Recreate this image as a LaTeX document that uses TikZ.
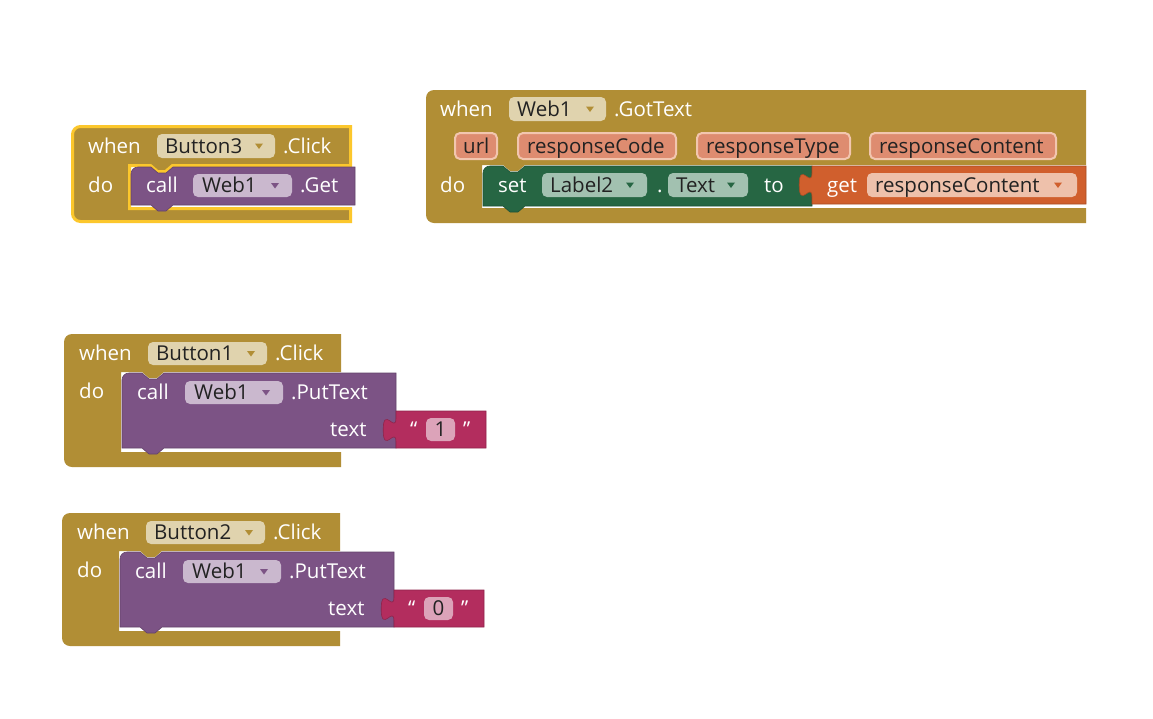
\documentclass[tikz,border=0pt]{standalone}
\usepackage{fontspec}
\setmainfont{Open Sans}

\definecolor{ctrl}{HTML}{B18E35}
\definecolor{ctrlfield}{HTML}{E0D3AE}
\definecolor{selyellow}{HTML}{FCC72C}
\definecolor{method}{HTML}{7C5385}
\definecolor{methodfield}{HTML}{CAB8CE}
\definecolor{setter}{HTML}{266643}
\definecolor{setterfield}{HTML}{A2C1B0}
\definecolor{getter}{HTML}{D05F2D}
\definecolor{getterfield}{HTML}{EEC1AB}
\definecolor{param}{HTML}{DE8C70}
\definecolor{paramedge}{HTML}{F2C6AF}
\definecolor{strblk}{HTML}{B32D5E}
\definecolor{strfield}{HTML}{DCA3B9}
\definecolor{ink}{HTML}{222222}

\newcommand\blkfont{\fontsize{20.5}{24}\selectfont}

% event block with one statement mouth:
% #1 left, #2 top, #3 right, #4 mouth top, #5 mouth left, #6 mouth bottom, #7 bottom, #8 style
\newcommand\cblock[8]{%
  \path[#8] (#1,{#2+8}) arc[start angle=180,end angle=270,radius=8]
    -- (#3,#2) -- (#3,#4)
    -- ({#5+43},#4) -- ({#5+36},{#4+6}) -- ({#5+28},{#4+6}) -- ({#5+21},#4)
    -- (#5,#4) -- (#5,#6) -- (#3,#6) -- (#3,#7)
    -- ({#1+8},#7) arc[start angle=90,end angle=180,radius=8] -- cycle;}

% statement block with top notch and bottom tab: #1 left, #2 top, #3 right, #4 bottom, #5 colour
\newcommand\stmtblk[5]{%
  \path[fill=#5, draw=#5!80!black, line width=0.6pt]
    (#1,{#2+7}) arc[start angle=180,end angle=270,radius=7]
    -- ({#1+20},#2) -- ({#1+27},{#2+6}) -- ({#1+35},{#2+6}) -- ({#1+42},#2)
    -- (#3,#2) -- (#3,#4)
    -- ({#1+42},#4) -- ({#1+35},{#4+6}) -- ({#1+27},{#4+6}) -- ({#1+20},#4)
    -- (#1,#4) -- cycle;}

% value block with output tab on the left: #1 left, #2 top, #3 right, #4 bottom, #5 colour
\newcommand\valblk[5]{%
  \path[fill=#5, draw=#5!80!black, line width=0.6pt]
    (#1,#2) -- (#1,{#2+7})
    .. controls (#1,{#2+23}) and ({#1-12.8},{#2-5.8}) .. ({#1-12.8},{#2+19})
    .. controls ({#1-12.8},{#2+43.8}) and (#1,{#2+15}) .. (#1,{#2+31})
    -- (#1,#4) -- (#3,#4) -- (#3,#2) -- cycle;}

% rounded field: #1 x1, #2 y1, #3 x2, #4 y2, #5 style
\newcommand\fieldpill[5]{\path[#5, rounded corners=5pt] (#1,#2) rectangle (#3,#4);}

% dropdown triangle: #1 cx, #2 cy, #3 colour
\newcommand\ddarrow[3]{\fill[#3] ({#1-4},{#2-2.5}) -- ({#1+4},{#2-2.5}) -- (#1,{#2+3}) -- cycle;}

\tikzset{
  lbl/.style={text=white, font=\blkfont, inner sep=0pt, anchor=base west},
  fld/.style={text=ink, font=\blkfont, inner sep=0pt, anchor=base west},
}

\begin{document}
\begin{tikzpicture}[x=1pt,y=-1pt]
\useasboundingbox[fill=white] (0,0) rectangle (1153,718);

% ---------- when Button3.Click ----------
\cblock{72.5}{126.5}{350.5}{165.5}{129.5}{208.5}{221.5}{fill=ctrl, draw=selyellow, line width=3pt}
\stmtblk{131}{167}{355}{205}{method}
\node[lbl] (b3when) at (88,153) {when};
\fieldpill{157}{134}{275}{158}{fill=ctrlfield}
\node[fld] (b3btn) at (165,153) {Button3};
\ddarrow{259}{146}{ctrl}
\node[lbl] (b3evt) at (283,153) {.Click};
\node[lbl] (b3do) at (88,192) {do};
\node[lbl] (b3call) at (146,192.5) {call};
\fieldpill{193}{174}{292}{197}{fill=methodfield}
\node[fld] (b3web) at (202,192.5) {Web1};
\ddarrow{275}{185.5}{method}
\node[lbl] (b3get) at (300,192.5) {.Get};

% ---------- when Web1.GotText ----------
\cblock{426}{90}{1086}{165}{482}{208}{223}{fill=ctrl}
\stmtblk{483}{166}{812}{206}{setter}
\valblk{812}{166}{1086}{204}{getter}
\node[lbl] (gtwhen) at (440,116) {when};
\fieldpill{509}{97}{606}{121}{fill=ctrlfield}
\node[fld] (gtweb) at (517,116) {Web1};
\ddarrow{590}{109}{ctrl}
\node[lbl] (gtevt) at (614,116) {.GotText};
\fieldpill{455}{133}{497}{159}{fill=param, draw=paramedge, line width=2pt}
\node[fld] (pu) at (463,153) {url};
\fieldpill{518}{133}{676}{159}{fill=param, draw=paramedge, line width=2pt}
\node[fld] (pc) at (527,153) {responseCode};
\fieldpill{697}{133}{850}{159}{fill=param, draw=paramedge, line width=2pt}
\node[fld] (pt) at (706,153) {responseType};
\fieldpill{870}{133}{1056}{159}{fill=param, draw=paramedge, line width=2pt}
\node[fld] (pr) at (879,153) {responseContent};
\node[lbl] (gtdo) at (440,192) {do};
\node[lbl] (gtset) at (498,192) {set};
\fieldpill{542}{173}{647}{197}{fill=setterfield}
\node[fld] (gtlabel) at (550,192) {Label2};
\ddarrow{630}{185}{setter}
\node[lbl] (gtdot) at (657,192) {.};
\fieldpill{668}{173}{748}{197}{fill=setterfield}
\node[fld] (gtprop) at (676,192) {Text};
\ddarrow{731}{185}{setter}
\node[lbl] (gtto) at (764,192) {to};
\node[lbl] (gtgetkw) at (827,192) {get};
\fieldpill{867}{173}{1077}{197}{fill=getterfield}
\node[fld] (gtvar) at (875,192) {responseContent};
\ddarrow{1058}{185}{getter}

% ---------- when Button1.Click ----------
\cblock{64}{334}{341}{372}{121}{452}{467}{fill=ctrl}
\stmtblk{122}{373}{396}{448}{method}
\valblk{396}{411}{486}{448}{strblk}
\node[lbl] (b1when) at (79,360.5) {when};
\fieldpill{148}{342}{267}{365}{fill=ctrlfield}
\node[fld] (b1btn) at (156,360.5) {Button1};
\ddarrow{251}{353.5}{ctrl}
\node[lbl] (b1evt) at (275,360.5) {.Click};
\node[lbl] (b1do) at (79,398) {do};
\node[lbl] (b1call) at (137,399.5) {call};
\fieldpill{185}{381}{283}{404}{fill=methodfield}
\node[fld] (b1web) at (194,399.5) {Web1};
\ddarrow{266}{392.5}{method}
\node[lbl] (b1put) at (291,399.5) {.PutText};
\node[lbl] (b1arg) at (330,436.5) {text};
\node[lbl] (b1lq) at (410,436.5) {“};
\fieldpill{426}{418}{455}{441}{fill=strfield}
\node[fld, anchor=base] (b1val) at (440.5,436.5) {1};
\node[lbl] (b1rq) at (463,436.5) {”};

% ---------- when Button2.Click ----------
\cblock{62}{513}{340}{551}{119}{631}{646}{fill=ctrl}
\stmtblk{120}{552}{394}{627}{method}
\valblk{394}{590}{484}{627}{strblk}
\node[lbl] (b2when) at (77,539.5) {when};
\fieldpill{146}{521}{265}{544}{fill=ctrlfield}
\node[fld] (b2btn) at (154,539.5) {Button2};
\ddarrow{249}{532.5}{ctrl}
\node[lbl] (b2evt) at (273,539.5) {.Click};
\node[lbl] (b2do) at (77,577) {do};
\node[lbl] (b2call) at (135,578.5) {call};
\fieldpill{183}{560}{281}{583}{fill=methodfield}
\node[fld] (b2web) at (192,578.5) {Web1};
\ddarrow{264}{571.5}{method}
\node[lbl] (b2put) at (289,578.5) {.PutText};
\node[lbl] (b2arg) at (328,615.5) {text};
\node[lbl] (b2lq) at (408,615.5) {“};
\fieldpill{424}{597}{453}{620}{fill=strfield}
\node[fld, anchor=base] (b2val) at (438.5,615.5) {0};
\node[lbl] (b2rq) at (461,615.5) {”};
\end{tikzpicture}
\end{document}
